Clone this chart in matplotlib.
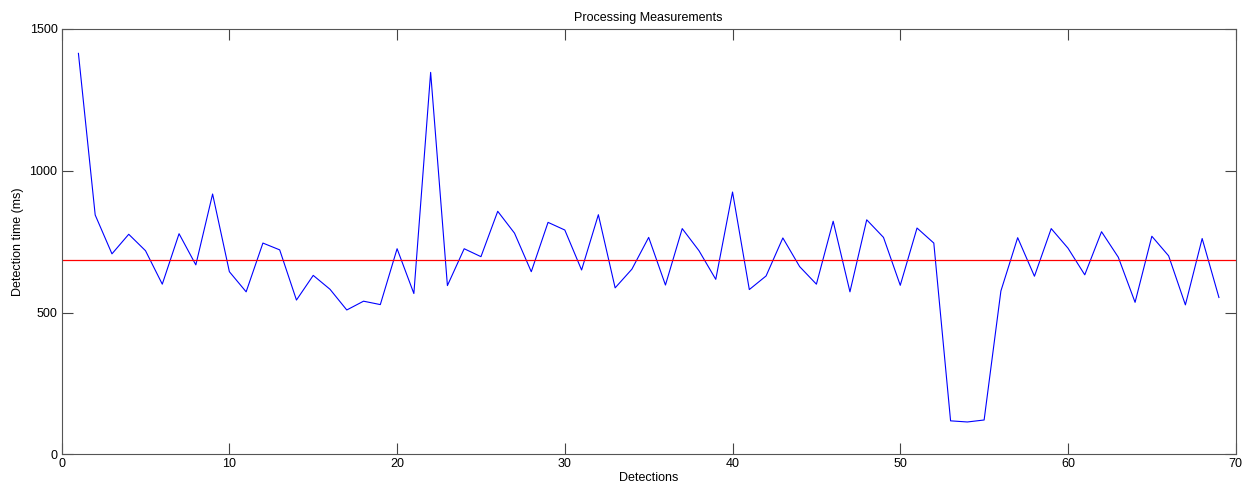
import matplotlib
matplotlib.use('Agg')
import matplotlib.pyplot as plt
import numpy as np

plt.rcParams['font.family'] = ['Liberation Sans', 'DejaVu Sans']

# detection times (ms), one per detection 1..69
detections = np.arange(1, 70)
times_ms = [1414, 844, 707, 776, 718, 600, 778, 668, 918, 644,
            573, 745, 721, 544, 631, 582, 509, 540, 528, 725,
            567, 1347, 595, 725, 697, 857, 780, 644, 818, 791,
            650, 845, 587, 653, 765, 597, 796, 718, 617, 925,
            581, 629, 763, 662, 600, 822, 573, 827, 765, 596,
            798, 745, 118, 114, 121, 576, 764, 628, 796, 727,
            633, 785, 695, 536, 769, 700, 527, 761, 553]
mean_ms = 684

x_ticks = [0, 10, 20, 30, 40, 50, 60, 70]
y_ticks = [0, 500, 1000, 1500]

fig = plt.figure(figsize=(12.53, 4.93), dpi=100)
ax = fig.add_axes([0.0492, 0.0785, 0.9370, 0.8627])

ax.plot(detections, times_ms, color='blue', linewidth=0.8)
ax.axhline(mean_ms, color='red', linewidth=0.9)

ax.set_xlim(0, 70)
ax.set_ylim(0, 1500)
ax.set_xticks(x_ticks)
ax.set_yticks(y_ticks)
ax.tick_params(direction='in', length=8, width=0.8, top=True, right=True,
               labelsize=9, pad=3, color='#444444')
for s in ax.spines.values():
    s.set_color('#555555')
    s.set_linewidth(0.8)

ax.set_title('Processing Measurements', fontsize=9, pad=6)
ax.set_xlabel('Detections', fontsize=9, labelpad=1)
ax.set_ylabel('Detection time (ms)', fontsize=9, labelpad=4)

plt.savefig('out.png', dpi=100)
